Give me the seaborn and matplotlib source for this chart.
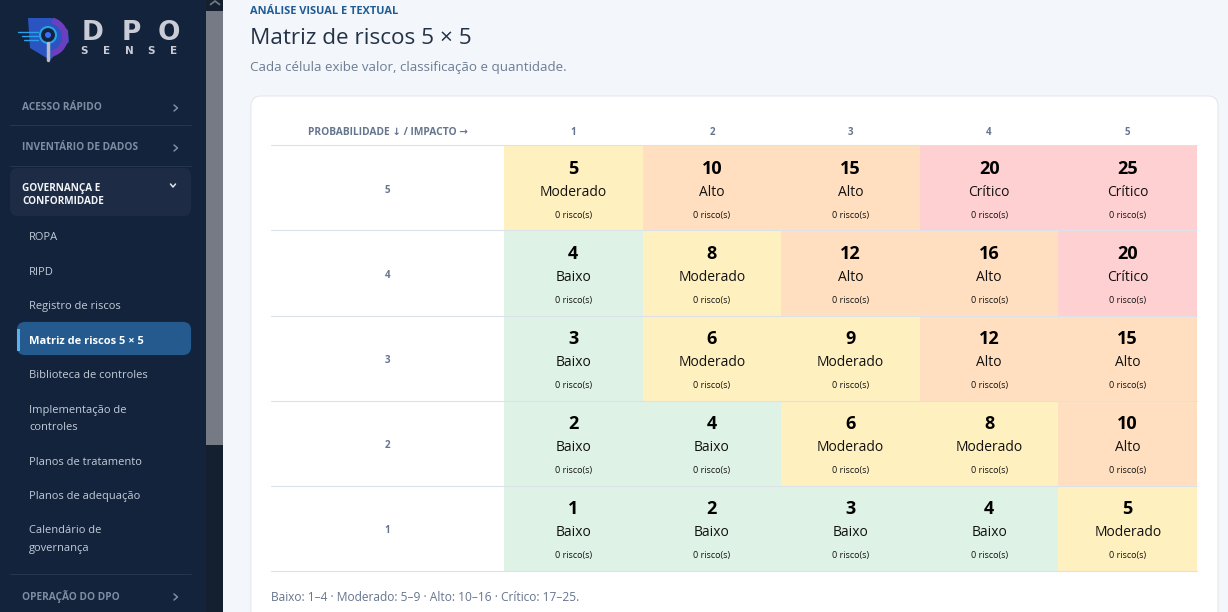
import numpy as np
import matplotlib
matplotlib.use("Agg")
import matplotlib.pyplot as plt
from matplotlib.colors import ListedColormap
from matplotlib.patches import FancyBboxPatch, Rectangle, Polygon, Circle, Wedge
import seaborn as sns

probabilities = [5, 4, 3, 2, 1]
impacts = [1, 2, 3, 4, 5]
scores = [[5, 10, 15, 20, 25],
          [4, 8, 12, 16, 20],
          [3, 6, 9, 12, 15],
          [2, 4, 6, 8, 10],
          [1, 2, 3, 4, 5]]
levels = [[1, 2, 2, 3, 3],
          [0, 1, 2, 2, 3],
          [0, 1, 1, 2, 2],
          [0, 0, 1, 1, 2],
          [0, 0, 0, 0, 1]]
level_names = ["Baixo", "Moderado", "Alto", "Crítico"]
level_colors = ["#dff2e6", "#fff0bf", "#ffdfbf", "#ffd0d1"]
risk_counts = [[0] * 5 for _ in range(5)]

sidebar_items = [("ROPA", 236), ("RIPD", 271), ("Registro de riscos", 305),
                 ("Biblioteca de controles", 374), ("Implementação de", 409),
                 ("controles", 426), ("Planos de tratamento", 461),
                 ("Planos de adequação", 495), ("Calendário de", 529),
                 ("governança", 547)]
sidebar_heads = [("ACESSO RÁPIDO", 107), ("INVENTÁRIO DE DADOS", 147), ("OPERAÇÃO DO DPO", 596)]

W, H = 1228, 612
sns.set_theme(style="white")
plt.rcParams["font.family"] = ["Open Sans", "DejaVu Sans"]

fig = plt.figure(figsize=(W / 100, H / 100), dpi=100, facecolor="#f3f6fa")
bg = fig.add_axes([0, 0, 1, 1], zorder=0)
bg.set_xlim(0, W); bg.set_ylim(H, 0); bg.axis("off")


def px(size):
    return size * 0.72


def T(x, y, s, size, color, weight="normal", ha="left", **kw):
    bg.text(x, y, s, fontsize=px(size), color=color, fontweight=weight, ha=ha, va="center", **kw)


# sidebar
bg.add_patch(Rectangle((0, 0), 206, H, fc="#12233b", ec="none"))
bg.add_patch(Rectangle((206, 0), 17, H, fc="#14202f", ec="none"))
bg.add_patch(Rectangle((206, 11), 17, 434, fc="#757a84", ec="none"))
bg.plot([210.5, 215, 219.5], [4.5, 1, 4.5], color="#6f7680", lw=1.3)

# logo
bg.add_patch(Polygon([[28, 18], [52, 18], [68, 30], [69, 42], [50, 60], [30, 48]],
                     fc="#2a55c0", ec="none"))
bg.add_patch(Wedge((48, 37), 20, -75, 80, width=6, fc="#6b3fc0", ec="none"))
bg.add_patch(Circle((48, 35), 8, fc="#12233b", ec="#2aa0e8", lw=1.5))
bg.add_patch(Circle((48, 35), 3, fc="#3a6cff", ec="none"))
bg.plot([48, 48], [43, 60], color="#b8bcc8", lw=2.5)
for yy, xs in ((32, 18), (36, 22), (40, 24)):
    bg.plot([xs, 38], [yy, yy], color="#2aa0e8", lw=1)
for i, ch in enumerate("DPO"):
    bg.text(93 + i * 38, 32.5, ch, fontsize=19, color="#c9ccd6", fontweight="bold",
            ha="center", va="center", family="DejaVu Sans")
for i, ch in enumerate("SENSE"):
    bg.text(84 + i * 22.5, 51, ch, fontsize=7.5, color="#c9ccd6", fontweight="bold",
            ha="center", va="center", family="DejaVu Sans")

for name, y in sidebar_heads:
    T(22, y + 0.5, name, 10.1, "#7f8da3", "bold")
    bg.plot([174, 177.5, 174], [y - 2, y + 1, y + 4], color="#7f8da3", lw=1.1)
for y in (124.5, 165.5, 573.5):
    bg.plot([10, 191], [y, y], color="#24364f", lw=0.72)
bg.add_patch(FancyBboxPatch((12, 170), 177, 44, boxstyle="round,pad=0,rounding_size=6",
                            fc="#1d2c44", ec="#1d2c44", lw=3, joinstyle="round"))
T(22, 188.5, "GOVERNANÇA E", 10, "#f2f4f8", "bold")
T(22, 201.5, "CONFORMIDADE", 10, "#f2f4f8", "bold")
bg.plot([170.5, 173, 175.5], [184, 187, 184], color="#e2e6ee", lw=1.1)
bg.add_patch(FancyBboxPatch((19, 324), 170, 29, boxstyle="round,pad=0,rounding_size=6",
                            fc="#245a8d", ec="#245a8d", lw=3, joinstyle="round"))
bg.add_patch(Rectangle((17, 329), 3, 22, fc="#57b2ee", ec="none"))
T(29, 341, "Matriz de riscos 5 × 5", 11.1, "#ffffff", "bold")
for name, y in sidebar_items:
    T(29, y + 1.4, name, 11.15, "#c3ccd9")

# page head
T(250.5, 11, "ANÁLISE VISUAL E TEXTUAL", 11, "#1f5c94", "bold")
T(250.5, 38, "Matriz de riscos 5 × 5", 22.5, "#243247")
T(250.5, 67, "Cada célula exibe valor, classificação e quantidade.", 13.35, "#6d7d94")

# card
bg.add_patch(FancyBboxPatch((251, 96), 967, 540, boxstyle="round,pad=0,rounding_size=10",
                            fc="#ffffff", ec="#e2e7ee", lw=0.72))
T(388, 132.5, "PROBABILIDADE ↓ / IMPACTO →", 10.25, "#66758e", "bold", ha="center")
T(271, 597.5, "Baixo: 1–4 · Moderado: 5–9 · Alto: 10–16 · Crítico: 17–25.", 12, "#66758e")

# heatmap
x0, x1, y0, y1 = 504, 1197, 146, 571
ax = fig.add_axes([x0 / W, 1 - y1 / H, (x1 - x0) / W, (y1 - y0) / H], zorder=2)
sns.heatmap(np.array(levels), ax=ax, cmap=ListedColormap(level_colors), vmin=-0.5, vmax=3.5,
            cbar=False, xticklabels=impacts, yticklabels=probabilities, linewidths=0)
ax.xaxis.tick_top()
ax.tick_params(axis="both", length=0)
ax.set_xticklabels(impacts, fontsize=px(9.8), fontweight="bold", color="#66758e", rotation=0)
ax.tick_params(axis="x", pad=5.5)
ax.set_yticklabels([])
for r, prob in enumerate(probabilities):
    ax.text(-116.5 / 138.6, r + 0.52, str(prob), fontsize=px(9.8), fontweight="bold",
            color="#66758e", ha="center", va="center", clip_on=False)
    for c in range(5):
        ax.text(c + 0.5, r + 0.275, str(scores[r][c]), fontsize=px(18), fontweight="bold",
                color="#000000", ha="center", va="center")
        ax.text(c + 0.5, r + 0.55, level_names[levels[r][c]], fontsize=px(13.9),
                color="#111111", ha="center", va="center")
        ax.text(c + 0.5, r + 0.815, f"{risk_counts[r][c]} risco(s)", fontsize=px(9),
                color="#111111", ha="center", va="center")
for side in ax.spines.values():
    side.set_visible(False)

# table rules
for y in (145, 230, 316, 401, 486, 571):
    fig.add_artist(plt.Line2D([271 / W, 1197 / W], [1 - y / H, 1 - y / H], color="#dde2ea",
                              lw=0.8, zorder=5))

fig.savefig("out.png", dpi=100, facecolor=fig.get_facecolor())
